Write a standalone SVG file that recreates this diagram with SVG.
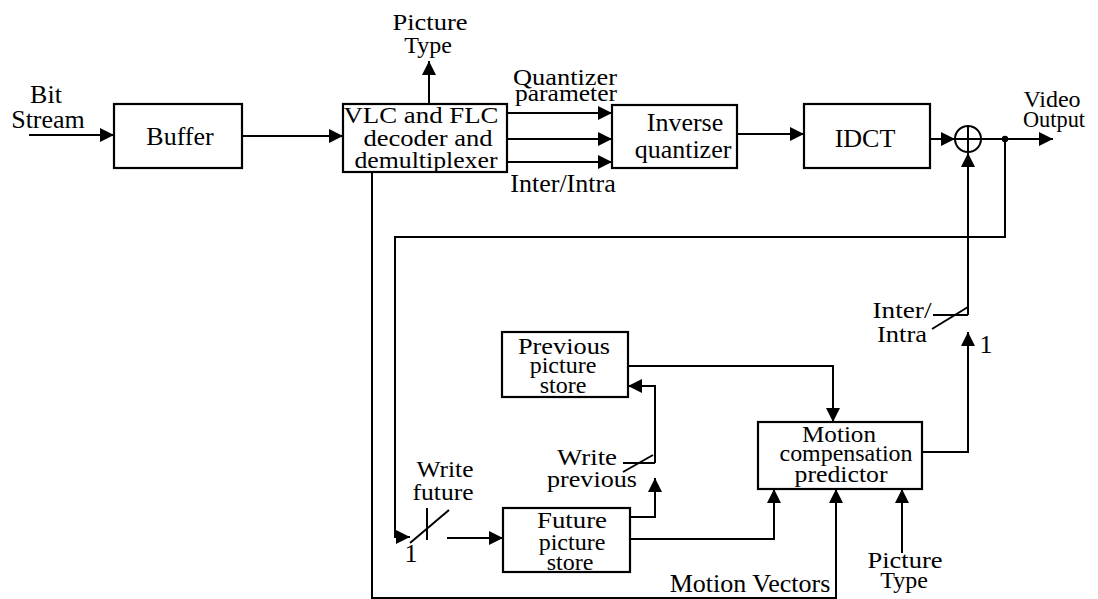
<svg xmlns="http://www.w3.org/2000/svg" width="1098" height="599" viewBox="0 0 1098 599">
<defs>
<marker id="ah" markerUnits="userSpaceOnUse" markerWidth="14" markerHeight="14" refX="14" refY="7" orient="auto"><path d="M0,0 L14,7 L0,14 z" fill="#000"/></marker>
<style>
text{font-family:"Liberation Serif","Times New Roman",serif;font-size:26px;fill:#000;text-anchor:middle}
text.s{font-size:24px}
.box{fill:#fff;stroke:#000;stroke-width:2.2}
.ln{fill:none;stroke:#000;stroke-width:2}
.ar{fill:none;stroke:#000;stroke-width:2;marker-end:url(#ah)}
</style>
</defs>
<rect width="1098" height="599" fill="#fff"/>
<g id="connectors">
<path class="ar" d="M29,135 L114,135"/>
<path class="ar" d="M242,136 L343,136"/>
<path class="ar" d="M429,104 L429,61"/>
<path class="ar" d="M507,113 L612,113"/>
<path class="ar" d="M507,139 L612,139"/>
<path class="ar" d="M507,162 L612,162"/>
<path class="ar" d="M737,134 L804,134"/>
<path class="ar" d="M930,139 L955,139"/>
<path class="ar" d="M981,139 L1053,139"/>
<circle cx="1005" cy="139" r="3.2" fill="#000"/>
<path class="ar" d="M1005,139 L1005,237 L395,237 L395,537 L410,537"/>
<path class="ar" d="M372,172 L372,598 L836,598 L836,489"/>
<path class="ln" d="M410,543 L449,510"/>
<path class="ln" d="M427,508 L427,540"/>
<path class="ar" d="M447,538 L503,538"/>
<path class="ar" d="M630,517 L655,517 L655,478"/>
<path class="ln" d="M623,463 L655,463"/>
<path class="ln" d="M623,472 L653,455"/>
<path class="ar" d="M655,463 L655,386 L628,386"/>
<path class="ar" d="M627,366 L833,366 L833,422"/>
<path class="ar" d="M630,539 L774,539 L774,489"/>
<path class="ar" d="M902,553 L902,489"/>
<path class="ar" d="M922,452 L968,452 L968,332"/>
<path class="ln" d="M933,315 L968,315"/>
<path class="ln" d="M932,329 L968,307"/>
<path class="ar" d="M968,315 L968,153"/>
</g>
<g id="sum">
<circle cx="968" cy="139" r="13" fill="#fff" stroke="#000" stroke-width="2"/>
<path class="ln" d="M955,139 L981,139 M968,126 L968,152"/>
</g>
<g id="buffer"><rect class="box" x="114" y="104" width="128" height="64"/><text x="180" y="145">Buffer</text></g>
<g id="vlc"><rect class="box" x="343" y="104" width="164" height="68"/>
<text class="s" x="421" y="123" textLength="155" lengthAdjust="spacingAndGlyphs">VLC and FLC</text>
<text class="s" x="428" y="146" textLength="129" lengthAdjust="spacingAndGlyphs">decoder and</text>
<text class="s" x="426" y="168" textLength="143" lengthAdjust="spacingAndGlyphs">demultiplexer</text></g>
<g id="invq"><rect class="box" x="612" y="105" width="125" height="63"/><text x="685" y="131">Inverse</text><text x="683" y="158">quantizer</text></g>
<g id="idct"><rect class="box" x="804" y="104" width="126" height="64"/><text x="865" y="147">IDCT</text></g>
<g id="prev"><rect class="box" x="502" y="332" width="126" height="65"/><text class="s" x="564" y="354" textLength="92" lengthAdjust="spacingAndGlyphs">Previous</text><text class="s" x="563" y="373">picture</text><text class="s" x="563" y="393">store</text></g>
<g id="future"><rect class="box" x="503" y="508" width="127" height="64"/><text class="s" x="572" y="528" textLength="70" lengthAdjust="spacingAndGlyphs">Future</text><text class="s" x="572" y="550">picture</text><text class="s" x="570" y="570">store</text></g>
<g id="mcp"><rect class="box" x="758" y="422" width="164" height="67"/><text class="s" x="839" y="442" textLength="74" lengthAdjust="spacingAndGlyphs">Motion</text><text class="s" x="846" y="461" textLength="133" lengthAdjust="spacingAndGlyphs">compensation</text><text class="s" x="841" y="482" textLength="93" lengthAdjust="spacingAndGlyphs">predictor</text></g>
<g id="labels">
<text x="46" y="103">Bit</text><text x="48" y="128">Stream</text>
<text class="s" x="430" y="30" textLength="75" lengthAdjust="spacingAndGlyphs">Picture</text><text class="s" x="428" y="53">Type</text>
<text class="s" x="565" y="85" textLength="104" lengthAdjust="spacingAndGlyphs">Quantizer</text><text class="s" x="566" y="101" textLength="102" lengthAdjust="spacingAndGlyphs">parameter</text>
<text x="563" y="192">Inter/Intra</text>
<text class="s" x="1052" y="107">Video</text><text class="s" x="1054" y="127" textLength="62" lengthAdjust="spacingAndGlyphs">Output</text>
<text class="s" x="445" y="477" textLength="57" lengthAdjust="spacingAndGlyphs">Write</text><text class="s" x="443" y="500" textLength="61" lengthAdjust="spacingAndGlyphs">future</text>
<text x="411" y="562">1</text>
<text class="s" x="587" y="465" textLength="60" lengthAdjust="spacingAndGlyphs">Write</text><text class="s" x="592" y="487" textLength="90" lengthAdjust="spacingAndGlyphs">previous</text>
<text class="s" x="902" y="318" textLength="59" lengthAdjust="spacingAndGlyphs">Inter/</text><text class="s" x="902" y="342" textLength="50" lengthAdjust="spacingAndGlyphs">Intra</text>
<text x="986" y="353">1</text>
<text x="750" y="592">Motion Vectors</text>
<text class="s" x="905" y="568" textLength="75" lengthAdjust="spacingAndGlyphs">Picture</text><text class="s" x="904" y="588">Type</text>
</g>
</svg>
